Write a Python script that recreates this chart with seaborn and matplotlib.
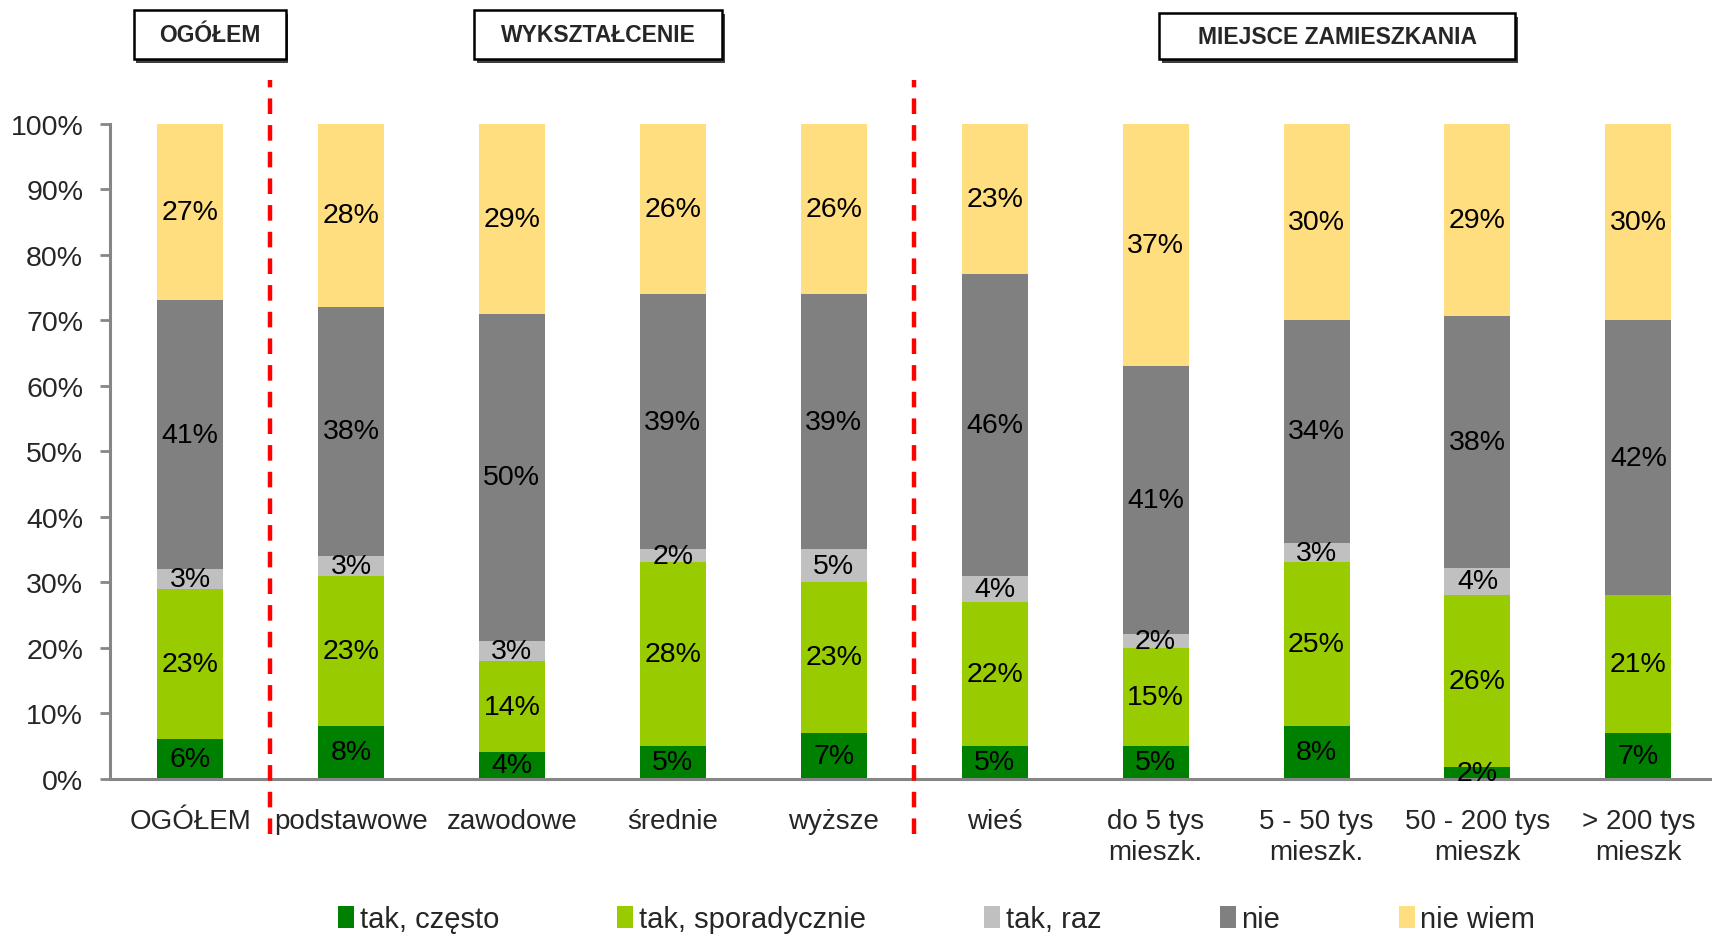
import numpy as np
import pandas as pd
import matplotlib
matplotlib.use('Agg')
import matplotlib.pyplot as plt
from matplotlib.patches import Rectangle, Patch
import seaborn as sns

# Data (percent of respondents)
categories = ['OGÓŁEM', 'podstawowe', 'zawodowe', 'średnie', 'wyższe', 'wieś',
              'do 5 tys\nmieszk.', '5 - 50 tys\nmieszk.', '50 - 200 tys\nmieszk',
              '> 200 tys\nmieszk']
series_names = ['tak, często', 'tak, sporadycznie', 'tak, raz', 'nie', 'nie wiem']
tak_czesto = [6, 8, 4, 5, 7, 5, 5, 8, 1.8, 7]
tak_sporadycznie = [23, 23, 14, 28, 23, 22, 15, 25, 26.3, 21]
tak_raz = [3, 3, 3, 2, 5, 4, 2, 3, 4.1, 0]
nie = [41, 38, 50, 39, 39, 46, 41, 34, 38.4, 42]
nie_wiem = [27, 28, 29, 26, 26, 23, 37, 30, 29.4, 30]
colors = ['#008000', '#99CC00', '#C0C0C0', '#808080', '#FFDE80']

group_titles = ['OGÓŁEM', 'WYKSZTAŁCENIE', 'MIEJSCE ZAMIESZKANIA']

sns.set_style('white')
plt.rcParams['font.family'] = ['Liberation Sans', 'DejaVu Sans']

values = np.array([tak_czesto, tak_sporadycznie, tak_raz, nie, nie_wiem], dtype=float)
cum = np.cumsum(values, axis=0)

fig = plt.figure(figsize=(17.12, 9.37), dpi=100)
ax = fig.add_axes([0.064, 0.168, 0.940, 0.699])

# stacked bars: draw cumulative totals from the top series down
for i in range(len(series_names) - 1, -1, -1):
    df = pd.DataFrame({'cat': categories, 'val': cum[i]})
    sns.barplot(data=df, x='cat', y='val', color=colors[i], width=0.41,
                saturation=1, ax=ax, order=categories, linewidth=0)

# segment labels
for i in range(len(series_names)):
    for j in range(len(categories)):
        v = values[i, j]
        if v <= 0:
            continue
        y = cum[i, j] - v / 2
        ax.text(j, y, f'{v:.0f}%', ha='center', va='center', fontsize=20.5,
                color='black', clip_on=False, zorder=5)

ax.set_ylim(0, 100)
ax.set_xlim(-0.5, 9.5)
ax.set_yticks(np.arange(0, 101, 10))
ax.set_yticklabels([f'{t}%' for t in range(0, 101, 10)])
ax.set_xlabel('')
ax.set_ylabel('')

for s in ['top', 'right']:
    ax.spines[s].set_visible(False)
for s in ['left', 'bottom']:
    ax.spines[s].set_color('#868686')
    ax.spines[s].set_linewidth(2.2)

ax.set_xticks(np.arange(0.5, 9.6, 1), minor=True)
ax.tick_params(axis='x', which='major', length=0, pad=21, labelsize=20)
ax.tick_params(axis='x', which='minor', length=7, width=2, color='#868686',
               direction='out')
ax.tick_params(axis='y', length=7, width=2, color='#868686', pad=12,
               labelsize=20.5, direction='out', left=True)
for lab in ax.get_xticklabels():
    lab.set_linespacing(1.25)

# red dashed separators
for xpos in [0.5, 4.5]:
    ax.plot([xpos, xpos], [-0.085, 1.066], color='#FF0000', lw=3.2,
            ls=(0, (3.5, 2.5)), transform=ax.get_xaxis_transform(),
            clip_on=False, zorder=6)
ax.set_xlim(-0.5, 9.5)

# group header boxes (figure coords)
boxes = [(0.078, 0.167, 0.936, 0.988),
         (0.277, 0.422, 0.936, 0.988),
         (0.677, 0.885, 0.936, 0.985)]
for title, (x0, x1, y0, y1) in zip(group_titles, boxes):
    fig.patches.append(Rectangle((x0 + 0.0015, y0 - 0.004), x1 - x0, y1 - y0,
                                 transform=fig.transFigure, facecolor='#404040',
                                 edgecolor='none', zorder=1))
    fig.patches.append(Rectangle((x0, y0), x1 - x0, y1 - y0,
                                 transform=fig.transFigure, facecolor='white',
                                 edgecolor='black', lw=1.8, zorder=2))
    fig.text((x0 + x1) / 2, (y0 + y1) / 2, title, ha='center', va='center',
             fontsize=16.5, fontweight='bold', zorder=3)

handles = [Patch(facecolor=c, edgecolor='none') for c in colors]
fig.legend(handles, series_names, loc='lower center', ncol=5,
           bbox_to_anchor=(0.547, -0.025), frameon=False, fontsize=21,
           handlelength=0.55, handleheight=0.75, handletextpad=0.2,
           columnspacing=4.05)

fig.savefig('out.png', dpi=100)
